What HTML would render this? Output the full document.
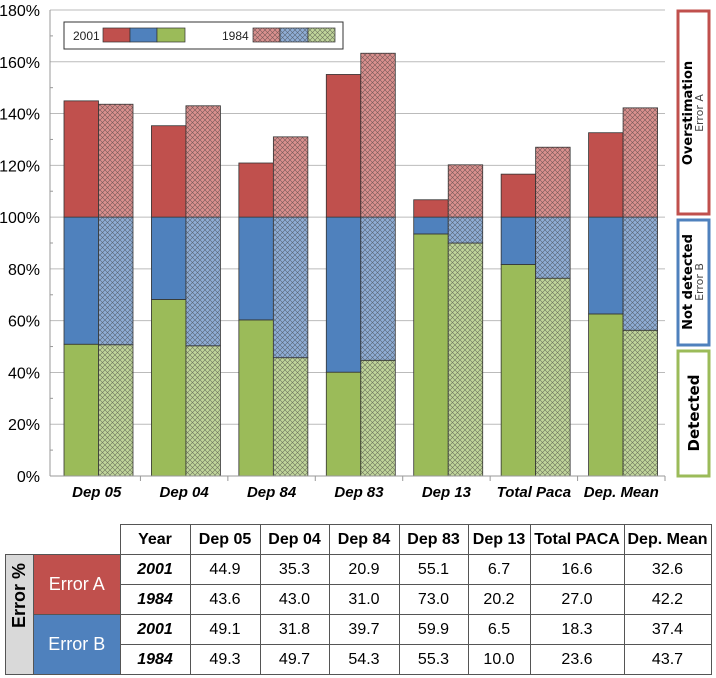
<!DOCTYPE html>
<html><head><meta charset="utf-8"><style>
body{margin:0;background:#fff;width:716px;height:678px;overflow:hidden;position:relative;font-family:"Liberation Sans",sans-serif}
svg{position:absolute;left:0;top:0}
table{position:absolute;left:5px;top:524px;border-collapse:collapse;font-family:"Liberation Sans Narrow","Liberation Sans",sans-serif;font-size:16px}
td{border:1px solid #555;text-align:center;height:29px;padding:0}
.hd{font-weight:bold}
.yr{font-weight:bold;font-style:italic}
</style></head><body>
<svg width="716" height="678">
<defs>
<pattern id="hatch" width="5" height="5" patternUnits="userSpaceOnUse">
<path d="M0,0 L5,5 M5,0 L0,5" stroke="#333" stroke-width="0.6" opacity="0.6"/>
</pattern>
</defs>
<g id="grid"></g><g id="bars"></g><g id="axes"></g>
<g>
<rect x="64" y="22" width="279" height="27" fill="#fff" stroke="#333"/>
<text x="73" y="40" font-size="12" fill="#222">2001</text>
<rect x="103" y="28" width="27" height="14" fill="#c0504d" stroke="#333" stroke-width=".7"/>
<rect x="130" y="28" width="27" height="14" fill="#4f81bd" stroke="#333" stroke-width=".7"/>
<rect x="157" y="28" width="28" height="14" fill="#9bbb59" stroke="#333" stroke-width=".7"/>
<text x="222" y="40" font-size="12" fill="#222">1984</text>
<rect x="253" y="28" width="27" height="14" fill="#d9908e" stroke="#333" stroke-width=".7"/><rect x="253" y="28" width="27" height="14" fill="url(#hatch)"/>
<rect x="280" y="28" width="28" height="14" fill="#8fadd5" stroke="#333" stroke-width=".7"/><rect x="280" y="28" width="28" height="14" fill="url(#hatch)"/>
<rect x="308" y="28" width="27" height="14" fill="#c0d59a" stroke="#333" stroke-width=".7"/><rect x="308" y="28" width="27" height="14" fill="url(#hatch)"/>
</g>
<g font-family="DejaVu Sans, sans-serif">
<rect x="678" y="11" width="31" height="203" fill="#fff" stroke="#c0504d" stroke-width="3"/>
<text transform="translate(692,113) rotate(-90)" text-anchor="middle" font-size="13" font-weight="bold">Overstimation</text>
<text transform="translate(703,113) rotate(-90)" text-anchor="middle" font-size="11" fill="#444">Error A</text>
</g>
<g font-family="DejaVu Sans, sans-serif">
<rect x="678" y="220" width="31" height="125" fill="#fff" stroke="#4f81bd" stroke-width="3"/>
<text transform="translate(692,282) rotate(-90)" text-anchor="middle" font-size="13" font-weight="bold">Not detected</text>
<text transform="translate(703,282) rotate(-90)" text-anchor="middle" font-size="11" fill="#444">Error B</text>
</g>
<g font-family="DejaVu Sans, sans-serif">
<rect x="678" y="351" width="31" height="125" fill="#fff" stroke="#9bbb59" stroke-width="3"/>
<text transform="translate(699,413) rotate(-90)" text-anchor="middle" font-size="15" font-weight="bold">Detected</text>
</g>
</svg>
<table>
<tr><td style="border:none;width:27px"></td><td style="border:none;width:86px"></td>
<td class="hd" style="width:69px">Year</td><td class="hd" style="width:69px">Dep 05</td><td class="hd" style="width:68px">Dep 04</td><td class="hd" style="width:69px">Dep 84</td><td class="hd" style="width:68px">Dep 83</td><td class="hd" style="width:61px">Dep 13</td><td class="hd" style="width:93px">Total PACA</td><td class="hd" style="width:86px">Dep. Mean</td></tr>
<tr><td rowspan="4" style="background:#d9d9d9"><div style="transform:rotate(-90deg);font-weight:bold;font-size:18px;white-space:nowrap;width:27px">Error %</div></td>
<td rowspan="2" style="background:#c0504d;color:#fff;font-size:18px">Error A</td>
<td class="yr">2001</td><td>44.9</td><td>35.3</td><td>20.9</td><td>55.1</td><td>6.7</td><td>16.6</td><td>32.6</td></tr>
<tr><td class="yr">1984</td><td>43.6</td><td>43.0</td><td>31.0</td><td>73.0</td><td>20.2</td><td>27.0</td><td>42.2</td></tr>
<tr><td rowspan="2" style="background:#4f81bd;color:#fff;font-size:18px">Error B</td>
<td class="yr">2001</td><td>49.1</td><td>31.8</td><td>39.7</td><td>59.9</td><td>6.5</td><td>18.3</td><td>37.4</td></tr>
<tr><td class="yr">1984</td><td>49.3</td><td>49.7</td><td>54.3</td><td>55.3</td><td>10.0</td><td>23.6</td><td>43.7</td></tr>
</table>
<script>
const categories=["Dep 05","Dep 04","Dep 84","Dep 83","Dep 13","Total Paca","Dep. Mean"];
const errA2001=[44.9,35.3,20.9,55.1,6.7,16.6,32.6];
const errA1984=[43.6,43.0,31.0,63.3,20.2,27.0,42.2];
const errB2001=[49.1,31.8,39.7,59.9,6.5,18.3,37.4];
const errB1984=[49.3,49.7,54.3,55.3,10.0,23.6,43.7];
const yTicks=[0,20,40,60,80,100,120,140,160,180];
const NS="http://www.w3.org/2000/svg";
const L=53,R=665,T=10,B=476,YMAX=180;
const step=(R-L)/categories.length;
const y=v=>B-(v/YMAX)*(B-T);
const x=i=>L+step*i;
function mk(tag,a,p){const e=document.createElementNS(NS,tag);for(const k in a)e.setAttribute(k,a[k]);p.appendChild(e);return e;}
const grid=document.getElementById('grid'),bars=document.getElementById('bars'),axes=document.getElementById('axes');
yTicks.forEach(t=>{
  if(t>0){const g=mk('line',{x1:L-3,x2:R,y1:y(t),y2:y(t),stroke:'#bbb'},grid);
  
  }
  const lb=mk('text',{x:40,y:y(t)+6,'text-anchor':'end','font-size':'16','font-family':'Liberation Sans Narrow, Liberation Sans, sans-serif'},axes);
  lb.textContent=t+'%';
  
  
  if(t<YMAX){mk('line',{x1:L-3,x2:L,y1:y(t+10),y2:y(t+10),stroke:'#999'},axes);}
});
mk('line',{x1:L-3,x2:L-3,y1:T,y2:B,stroke:'#999'},axes);
mk('line',{x1:L-3,x2:R,y1:B,y2:B,stroke:'#999'},axes);
const cols={r:'#c0504d',b:'#4f81bd',g:'#9bbb59'},lite={r:'#d9908e',b:'#8fadd5',g:'#c0d59a'};
const bw=34.5;
function seg(x0,v0,v1,c,hatched,name){
  const r=mk('rect',{x:x0,y:y(v1),width:bw,height:y(v0)-y(v1),fill:hatched?lite[c]:cols[c],stroke:'#333','stroke-width':'0.8'},bars);
  
  
  if(hatched)mk('rect',{x:x0,y:y(v1),width:bw,height:y(v0)-y(v1),fill:'url(#hatch)'},bars);
}
categories.forEach((c,i)=>{
  const x1=x(i)+11,x2=x1+bw;
  seg(x1,0,100-errB2001[i],'g',false,'bar-detected-2001');
  seg(x1,100-errB2001[i],100,'b',false,'bar-error-b-2001');
  seg(x1,100,100+errA2001[i],'r',false,'bar-error-a-2001');
  seg(x2,0,100-errB1984[i],'g',true,'bar-detected-1984');
  seg(x2,100-errB1984[i],100,'b',true,'bar-error-b-1984');
  seg(x2,100,100+errA1984[i],'r',true,'bar-error-a-1984');
  mk('line',{x1:x(i+1),x2:x(i+1),y1:B,y2:B+5,stroke:'#999'},axes);
  const t=mk('text',{x:x(i)+step/2,y:B+21,'text-anchor':'middle','font-size':'15','font-weight':'bold','font-style':'italic','font-family':'Liberation Sans Narrow, Liberation Sans, sans-serif'},axes);
  t.textContent=c;
  
  
});
</script>
</body></html>
